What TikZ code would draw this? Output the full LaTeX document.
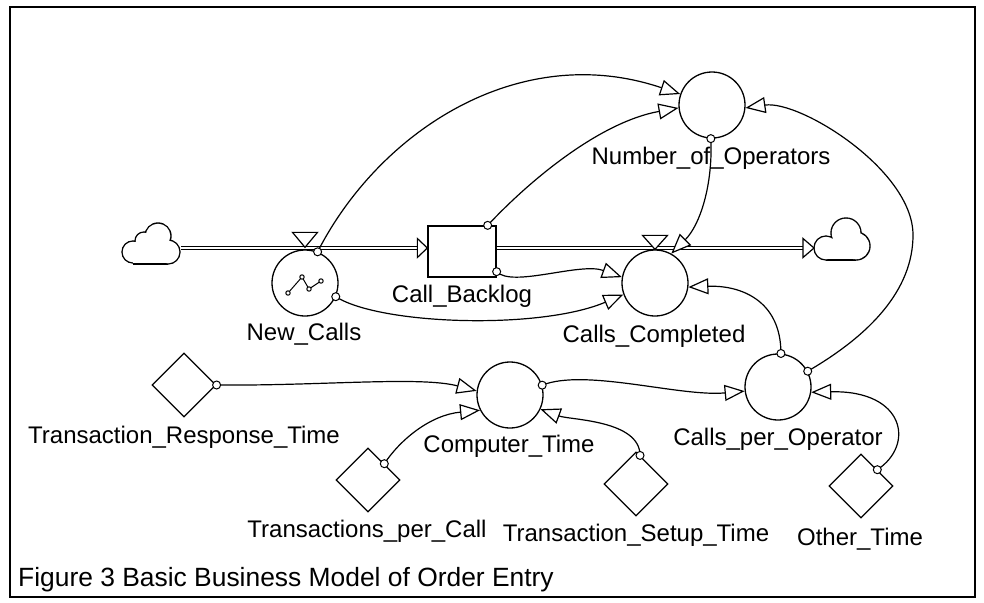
\documentclass[tikz,border=0pt]{standalone}
\usepackage{fontspec}
\setmainfont{Liberation Sans}
\usetikzlibrary{arrows.meta,shapes.geometric,calc}
\begin{document}
\begin{tikzpicture}[x=1pt,y=-1pt,
  lbl/.style={font=\fontsize{24}{28}\selectfont, anchor=base, inner sep=0pt},
  capt/.style={font=\fontsize{26.4}{30}\selectfont, anchor=base west, inner sep=0pt},
  aux/.style={circle, draw, line width=1.3pt, minimum size=66pt, inner sep=0pt},
  cst/.style={diamond, draw, line width=1.2pt, minimum width=64pt, minimum height=64pt, inner sep=0pt},
  stock/.style={rectangle, draw, line width=1.3pt, minimum width=68pt, minimum height=51pt, inner sep=0pt},
  link/.style={line width=1.2pt, -{Triangle[length=20pt,width=16pt,fill=white]}},
  dotc/.style={line width=1pt, fill=white},
  pipe/.style={line width=1pt, double=white, double distance=2.4pt},
  flowtip/.style={line width=1.2pt, fill=white, line join=miter},
  valve/.style={line width=1.2pt, fill=white}
]
\useasboundingbox (0,0) rectangle (984,602);
\draw[line width=1.6pt] (10,7) rectangle (975,597);

% nodes
\node[aux] (noo) at (712,105) {};
\node[aux] (nc) at (305,283) {};
\node[stock] (cb) at (462,251.5) {};
\node[aux] (cc) at (655,283) {};
\node[aux] (cpo) at (778,387) {};
\node[aux] (ct) at (510,395) {};
\node[cst] (trt) at (184,385) {};
\node[cst] (tpc) at (368,480) {};
\node[cst] (tst) at (636,484) {};
\node[cst] (oth) at (861,486) {};

% clouds
\coordinate (lc) at (181,248);
\coordinate (rc) at (814,248);
\fill[black] (133,252) circle[radius=11.7pt] (144,241) circle[radius=9.7pt] (158,236) circle[radius=13.7pt] (168,252) circle[radius=12.7pt];
\fill[black] (133,246) rectangle (168,264.7);
\fill[white] (133,252) circle[radius=10.3pt] (144,241) circle[radius=8.3pt] (158,236) circle[radius=12.3pt] (168,252) circle[radius=11.3pt];
\fill[white] (133,246) rectangle (168,263.3);
\fill[black] (826,248) circle[radius=12.7pt] (846,233) circle[radius=15.7pt] (856,246) circle[radius=14.7pt];
\fill[black] (826,242) rectangle (856,260.7);
\fill[white] (826,248) circle[radius=11.3pt] (846,233) circle[radius=14.3pt] (856,246) circle[radius=13.3pt];
\fill[white] (826,242) rectangle (856,259.3);

% pipes
\coordinate (inend) at ($(cb.west|-lc)+(-10,0)$);
\coordinate (outend) at ($(rc)+(-11,0)$);
\draw[pipe] (lc) -- (inend);
\draw[flowtip] ($(inend)+(0,-9.5)$) -- (cb.west|-lc) -- ($(inend)+(0,9.5)$) -- cycle;
\draw[pipe] (cb.east|-lc) -- (outend);
\draw[flowtip] ($(outend)+(0,-9.5)$) -- (rc) -- ($(outend)+(0,9.5)$) -- cycle;

% valves
\draw[valve] ($(nc.north)+(-12.5,-17)$) -- ($(nc.north)+(12.5,-17)$) -- ($(nc.north)+(0,-2)$) -- cycle;
\draw[valve] ($(cc.north)+(-12.5,-14)$) -- ($(cc.north)+(12.5,-14)$) -- ($(cc.north)+(0,0)$) -- cycle;

% graph icon in New_Calls
\draw[line width=1pt] (288,293) -- (302,277) -- (309,289) -- (321,281);
\foreach \p in {(288,293),(302,277),(309,289),(321,281)}
  \draw[line width=1pt, fill=white] \p circle[radius=2.2pt];

% connectors
\coordinate (cbtop) at ($(cb.north east)+(-9,0)$);
\coordinate (cbright) at ($(cb.south east)+(0,-6)$);
\draw[link] (nc.68) .. controls (380,130) and (520,40) .. (noo.161);
\draw[link] (cbtop) .. controls (530,180) and (600,122) .. (noo.185);
\draw[link] (noo.268) .. controls (713,185) and (700,225) .. (cc.61);
\draw[link] (cbright) .. controls (512,288) and (580,262) .. (cc.170);
\draw[link] (nc.336) .. controls (380,325) and (540,330) .. (cc.200);
\draw[link] (cpo.85) .. controls (781,300) and (740,285) .. (cc.353);
\draw[link] (cpo.28) .. controls (870,335) and (913,290) .. (913,235) .. controls (913,170) and (800,100) .. (noo.355);
\draw[link] (trt.east) .. controls (320,386) and (420,376) .. (ct.173);
\draw[link] (tpc.north east) .. controls (400,440) and (430,415) .. (ct.207);
\draw[link] (tst.82) .. controls (640,420) and (570,420) .. (ct.335);
\draw[link] (ct.17) .. controls (585,368) and (680,397) .. (cpo.187);
\draw[link] (oth.north east) .. controls (915,445) and (905,390) .. (cpo.351);

% start circles
\foreach \c in {(nc.68),(cbtop),(noo.268),(cbright),(nc.336),(cpo.85),(cpo.28),(trt.east),(tpc.north east),(tst.82),(ct.17),(oth.north east)}
  \draw[dotc] \c circle[radius=4pt];

% labels
\node[lbl] (noo-l) at (711,164) {Number\_of\_Operators};
\node[lbl] (cb-l) at (462,302) {Call\_Backlog};
\node[lbl] (nc-l) at (304,340) {New\_Calls};
\node[lbl] (cc-l) at (654,342) {Calls\_Completed};
\node[lbl] (cpo-l) at (778,445) {Calls\_per\_Operator};
\node[lbl] (ct-l) at (509,452) {Computer\_Time};
\node[lbl] (trt-l) at (184,443) {Transaction\_Response\_Time};
\node[lbl] (tpc-l) at (367,537) {Transactions\_per\_Call};
\node[lbl] (tst-l) at (636,541) {Transaction\_Setup\_Time};
\node[lbl] (oth-l) at (860,545) {Other\_Time};
\node[capt] (cap) at (18,586) {Figure 3 Basic Business Model of Order Entry};
\end{tikzpicture}
\end{document}
